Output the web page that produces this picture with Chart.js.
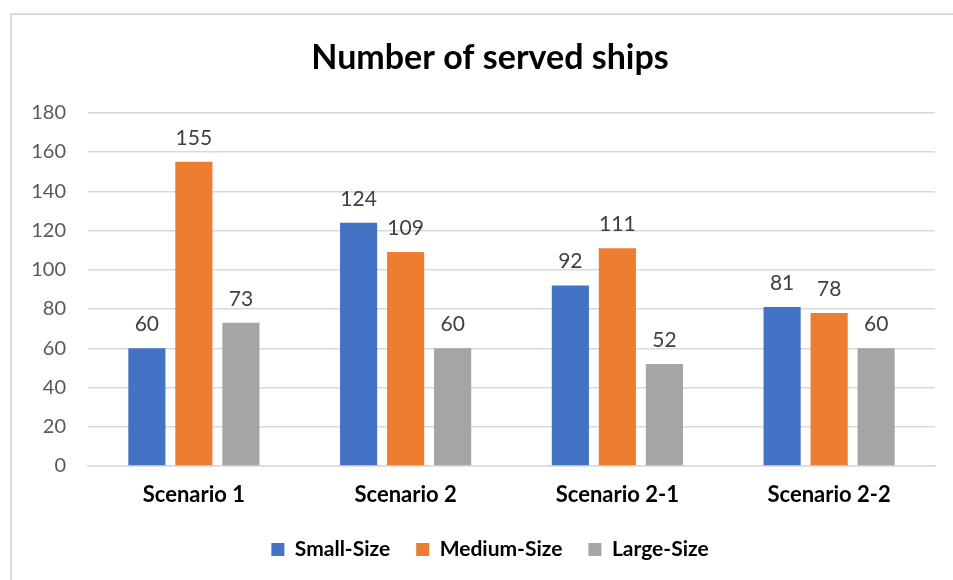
<!DOCTYPE html>
<html><head><meta charset="utf-8">
<script src="https://cdn.jsdelivr.net/npm/chart.js@4/dist/chart.umd.min.js"></script>
<style>
html,body{margin:0;padding:0;background:#fff;width:953px;height:580px;overflow:hidden;}
#frame{position:absolute;left:10px;top:13px;width:1000px;height:700px;border:2px solid #d9d9d9;box-sizing:border-box;}
#c{position:absolute;left:0;top:0;}
</style></head>
<body>
<div id="frame"></div>
<canvas id="c" width="953" height="580"></canvas>
<script>
const categories = ["Scenario 1", "Scenario 2", "Scenario 2-1", "Scenario 2-2"];
const smallSize = [60, 124, 92, 81];
const mediumSize = [155, 109, 111, 78];
const largeSize = [73, 60, 52, 60];
const seriesNames = ["Small-Size", "Medium-Size", "Large-Size"];
const yTicks = [0, 20, 40, 60, 80, 100, 120, 140, 160, 180];

const FONT = "Lato, 'Open Sans', sans-serif";

const valueLabels = {
  id: 'valueLabels',
  afterDatasetsDraw(chart) {
    const ctx = chart.ctx;
    ctx.save();
    ctx.font = "21px " + FONT;
    ctx.fillStyle = "#404040";
    ctx.textAlign = "center";
    ctx.textBaseline = "alphabetic";
    chart.data.datasets.forEach((ds, i) => {
      const meta = chart.getDatasetMeta(i);
      meta.data.forEach((bar, j) => {
        ctx.fillText(String(ds.data[j]), bar.x, bar.y - 17);
      });
    });
    ctx.restore();
  }
};

new Chart(document.getElementById('c'), {
  type: 'bar',
  data: {
    labels: categories,
    datasets: [
      { label: seriesNames[0], data: smallSize, backgroundColor: '#4472C4' },
      { label: seriesNames[1], data: mediumSize, backgroundColor: '#ED7D31' },
      { label: seriesNames[2], data: largeSize, backgroundColor: '#A5A5A5' }
    ]
  },
  options: {
    responsive: false,
    animation: false,
    devicePixelRatio: 1,
    layout: { padding: { left: 10, right: -17, top: 0, bottom: 10 } },
    datasets: { bar: { categoryPercentage: 0.666, barPercentage: 0.79 } },
    plugins: {
      title: {
        display: true,
        text: "Number of served ships",
        color: "#000",
        font: { family: FONT, size: 34, weight: 'bold' },
        padding: { top: 38, bottom: 34 }
      },
      legend: {
        position: 'bottom',
        labels: {
          color: "#000",
          font: { family: FONT, size: 21, weight: 'bold' },
          boxWidth: 13, boxHeight: 13,
          padding: 26
        }
      },
      tooltip: { enabled: false }
    },
    scales: {
      y: {
        min: 0, max: 180,
        afterBuildTicks: s => { s.ticks = yTicks.map(v => ({ value: v })); },
        afterFit: s => { s.width = 78; },
        border: { display: false },
        grid: { color: '#d9d9d9', lineWidth: 1.5, drawTicks: false },
        ticks: { color: '#595959', font: { family: FONT, size: 20 }, padding: 22 }
      },
      yRight: {
        type: 'linear',
        position: 'right',
        afterFit: s => { s.width = 35; },
        border: { display: false },
        grid: { display: false, drawTicks: false },
        ticks: { display: false }
      },
      x: {
        afterFit: s => { s.height = 47; },
        border: { color: '#d9d9d9', width: 1.5 },
        grid: { display: false, drawTicks: false },
        ticks: { color: '#000', font: { family: FONT, size: 22, weight: 'bold' }, padding: 16 }
      }
    }
  },
  plugins: [valueLabels]
});
</script>
</body></html>
